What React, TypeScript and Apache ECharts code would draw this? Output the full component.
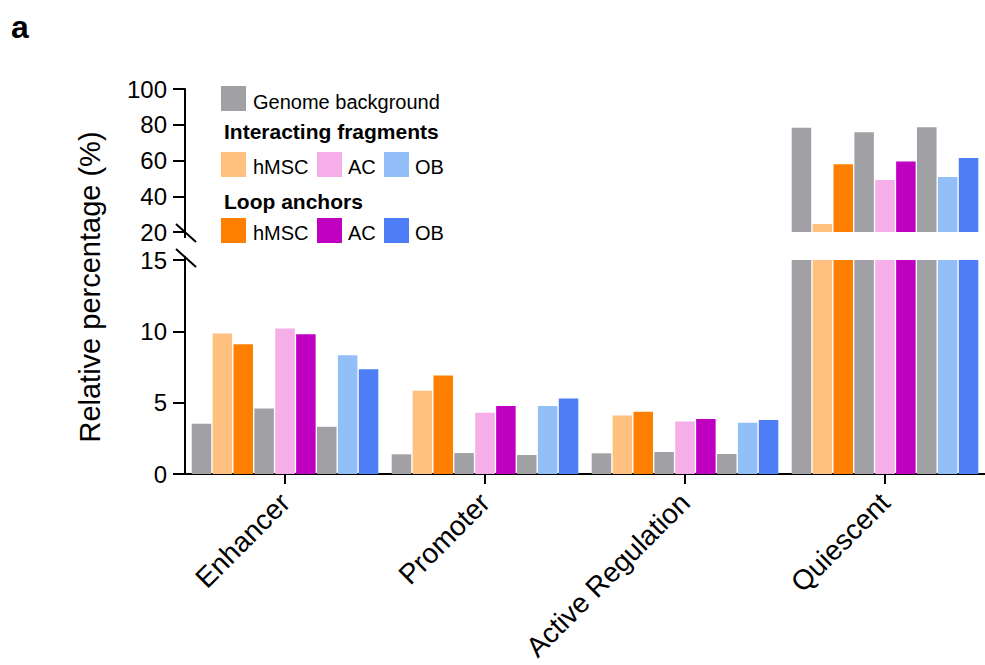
import React, { useEffect, useRef } from "react";
import * as echarts from "echarts";

// Chromatin-state categories on the x axis
const categories = ["Enhancer", "Promoter", "Active Regulation", "Quiescent"];

// Relative percentage (%) per category, per cell type
const bgHMSC = [3.52, 1.38, 1.45, 78.3];
const fragHMSC = [9.84, 5.83, 4.1, 24.5];
const loopHMSC = [9.09, 6.9, 4.36, 57.9];
const bgAC = [4.59, 1.47, 1.54, 75.8];
const fragAC = [10.19, 4.29, 3.68, 49.1];
const loopAC = [9.79, 4.76, 3.85, 59.5];
const bgOB = [3.31, 1.33, 1.4, 78.6];
const fragOB = [8.32, 4.76, 3.59, 50.8];
const loopOB = [7.34, 5.29, 3.78, 61.4];

// Broken y axis: lower and upper segments
const lowerTicks = [0, 5, 10, 15];
const upperTicks = [20, 40, 60, 80, 100];

const GRAY = "#a1a0a5";
const COLORS = {
  bg: GRAY,
  fragHMSC: "#ffc080",
  loopHMSC: "#ff8000",
  fragAC: "#f5aee7",
  loopAC: "#c000c0",
  fragOB: "#93bff9",
  loopOB: "#4d7ef7",
};

const FONT = "'Liberation Sans', Arial, Helvetica, sans-serif";

const seriesDefs = [
  { name: "Genome background (hMSC)", data: bgHMSC, color: COLORS.bg },
  { name: "hMSC interacting fragments", data: fragHMSC, color: COLORS.fragHMSC },
  { name: "hMSC loop anchors", data: loopHMSC, color: COLORS.loopHMSC },
  { name: "Genome background (AC)", data: bgAC, color: COLORS.bg },
  { name: "AC interacting fragments", data: fragAC, color: COLORS.fragAC },
  { name: "AC loop anchors", data: loopAC, color: COLORS.loopAC },
  { name: "Genome background (OB)", data: bgOB, color: COLORS.bg },
  { name: "OB interacting fragments", data: fragOB, color: COLORS.fragOB },
  { name: "OB loop anchors", data: loopOB, color: COLORS.loopOB },
];

// Layout of the two plotting panels
const GRID_LEFT = 185;
const GRID_WIDTH = 802;
const UPPER_TOP = 89;
const UPPER_BOTTOM = 232;
const LOWER_TOP = 260;
const LOWER_BOTTOM = 474;

export default function App() {
  const ref = useRef<HTMLDivElement>(null);

  useEffect(() => {
    if (!ref.current) return;
    const chart = echarts.init(ref.current, null, { renderer: "svg" });
    const lowerMax = lowerTicks[lowerTicks.length - 1];
    const upperMin = upperTicks[0];
    const upperMax = upperTicks[upperTicks.length - 1];

    const barCommon = {
      type: "bar" as const,
      barGap: "7%",
      barCategoryGap: "6.7%",
      clip: true,
    };

    const series: any[] = [];
    seriesDefs.forEach((s) => {
      series.push({
        ...barCommon,
        name: s.name,
        xAxisIndex: 1,
        yAxisIndex: 1,
        itemStyle: { color: s.color },
        data: s.data.map((v) => Math.min(v, lowerMax)),
      });
      series.push({
        ...barCommon,
        name: s.name + " ",
        xAxisIndex: 0,
        yAxisIndex: 0,
        itemStyle: { color: s.color },
        data: s.data.map((v) => (v > upperMin ? v : null)),
      });
    });

    const axisLine = { show: true, lineStyle: { color: "#000", width: 2 } };
    const yTick = { show: true, inside: false, length: 12, lineStyle: { color: "#000", width: 2 } };
    const yLabel = { color: "#000", fontSize: 24, fontFamily: FONT, margin: 18 };

    // Legend swatches and labels
    const sq = 25;
    const legendItems: any[] = [];
    const swatch = (x: number, y: number, color: string) => ({
      type: "rect",
      shape: { x, y, width: sq, height: sq },
      style: { fill: color },
    });
    const label = (x: number, y: number, text: string, bold = false) => ({
      type: "text",
      x,
      y,
      style: {
        text,
        fill: "#000",
        font: `${bold ? "bold 21px" : "20px"} ${FONT}`,
        verticalAlign: "middle",
        align: "left",
      },
    });
    legendItems.push(swatch(221, 86, COLORS.bg), label(253, 102, "Genome background"));
    legendItems.push(label(224, 131, "Interacting fragments", true));
    legendItems.push(
      swatch(221, 152, COLORS.fragHMSC),
      label(253, 167, "hMSC"),
      swatch(317, 152, COLORS.fragAC),
      label(348, 167, "AC"),
      swatch(384, 152, COLORS.fragOB),
      label(415, 167, "OB")
    );
    legendItems.push(label(224, 201, "Loop anchors", true));
    legendItems.push(
      swatch(221, 218, COLORS.loopHMSC),
      label(253, 233, "hMSC"),
      swatch(317, 218, COLORS.loopAC),
      label(348, 233, "AC"),
      swatch(384, 218, COLORS.loopOB),
      label(415, 233, "OB")
    );

    const blackLine = { stroke: "#000", lineWidth: 2 };
    const ax = GRID_LEFT;

    chart.setOption({
      animation: false,
      grid: [
        { left: GRID_LEFT, width: GRID_WIDTH, top: UPPER_TOP, height: UPPER_BOTTOM - UPPER_TOP },
        { left: GRID_LEFT, width: GRID_WIDTH, top: LOWER_TOP, height: LOWER_BOTTOM - LOWER_TOP },
      ],
      xAxis: [
        {
          type: "category",
          gridIndex: 0,
          data: categories,
          show: false,
        },
        {
          type: "category",
          gridIndex: 1,
          data: categories,
          axisLine,
          axisTick: {
            show: true,
            alignWithLabel: true,
            length: 10,
            lineStyle: { color: "#000", width: 2 },
          },
          axisLabel: {
            rotate: 45,
            color: "#000",
            fontSize: 28,
            fontFamily: FONT,
            margin: 24,
            interval: 0,
          },
        },
      ],
      yAxis: [
        {
          type: "value",
          gridIndex: 0,
          min: upperMin,
          max: upperMax,
          interval: 20,
          axisLine,
          axisTick: yTick,
          axisLabel: yLabel,
          splitLine: { show: false },
        },
        {
          type: "value",
          gridIndex: 1,
          min: 0,
          max: lowerMax,
          interval: 5,
          axisLine,
          axisTick: yTick,
          axisLabel: yLabel,
          splitLine: { show: false },
        },
      ],
      series,
      graphic: [
        // axis break: short extensions of each axis segment and the two slashes
        { type: "line", shape: { x1: ax, y1: UPPER_BOTTOM, x2: ax, y2: 238 }, style: blackLine },
        { type: "line", shape: { x1: ax, y1: 256, x2: ax, y2: LOWER_TOP }, style: blackLine },
        { type: "line", shape: { x1: 176, y1: 224, x2: 196, y2: 242 }, style: blackLine },
        { type: "line", shape: { x1: 176, y1: 249, x2: 196, y2: 267 }, style: blackLine },
        {
          type: "text",
          x: 90,
          y: 287,
          rotation: Math.PI / 2,
          style: {
            text: "Relative percentage (%)",
            fill: "#000",
            font: `29px ${FONT}`,
            align: "center",
            verticalAlign: "middle",
          },
        },
        {
          type: "text",
          x: 11,
          y: 27,
          style: {
            text: "a",
            fill: "#000",
            font: `bold 32px ${FONT}`,
            align: "left",
            verticalAlign: "middle",
          },
        },
        ...legendItems,
      ],
    });

    return () => chart.dispose();
  }, []);

  return (
    <div
      ref={ref}
      style={{ position: "fixed", left: 0, top: 0, width: 985, height: 665, background: "#fff" }}
    />
  );
}
